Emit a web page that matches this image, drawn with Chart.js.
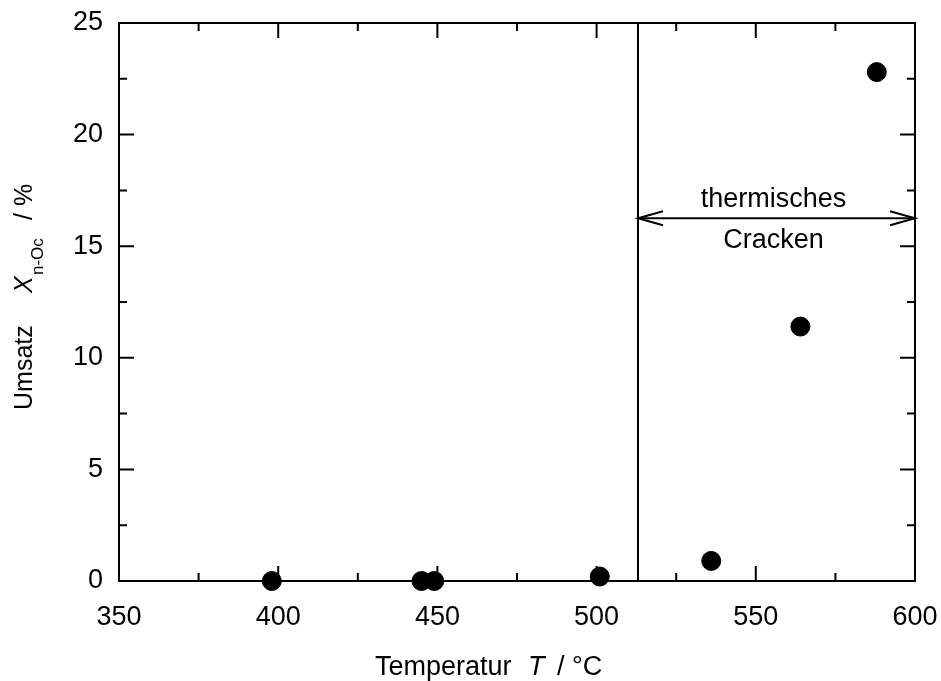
<!DOCTYPE html>
<html lang="de">
<head>
<meta charset="utf-8">
<title>Umsatz über Temperatur</title>
<script src="https://cdn.jsdelivr.net/npm/chart.js@4/dist/chart.umd.min.js"></script>
<style>
  html, body { margin: 0; padding: 0; background: #ffffff; }
  canvas { display: block; }
</style>
</head>
<body>
<canvas id="chart" width="941" height="681"></canvas>
<script>
  // ============ Daten ============
  const temperatures = [398, 445, 449, 501, 536, 564, 588];   // °C
  const conversion = [0, 0, 0, 0.2, 0.9, 11.4, 22.8];         // %
  const xMajorTicks = [350, 400, 450, 500, 550, 600];
  const xMinorTicks = [375, 425, 475, 525, 575];
  const yMajorTicks = [0, 5, 10, 15, 20, 25];
  const yMinorTicks = [2.5, 7.5, 12.5, 17.5, 22.5];
  const crackStart = 513;     // Beginn thermisches Cracken
  const crackArrowY = 16.25;
  const crackLabels = ['thermisches', 'Cracken'];

  (function () {
    'use strict';

    const FONT = '"Liberation Sans", Arial, sans-serif';
    const INK = '#000000';

    /** Rahmen und nach innen zeigende Ticks auf allen vier Seiten */
    const frameTicks = {
      id: 'frameTicks',
      beforeDatasetsDraw: function (chart) {
        const ctx = chart.ctx;
        const a = chart.chartArea;
        const xs = chart.scales.x;
        const ys = chart.scales.y;
        ctx.save();
        ctx.strokeStyle = INK;
        ctx.lineWidth = 2;
        ctx.strokeRect(a.left, a.top, a.right - a.left, a.bottom - a.top);

        ctx.beginPath();
        function xTick(v, len) {
          const px = xs.getPixelForValue(v);
          ctx.moveTo(px, a.bottom); ctx.lineTo(px, a.bottom - len);
          ctx.moveTo(px, a.top); ctx.lineTo(px, a.top + len);
        }
        function yTick(v, len) {
          const py = ys.getPixelForValue(v);
          ctx.moveTo(a.left, py); ctx.lineTo(a.left + len, py);
          ctx.moveTo(a.right, py); ctx.lineTo(a.right - len, py);
        }
        xMajorTicks.forEach(function (v) { xTick(v, 15); });
        xMinorTicks.forEach(function (v) { xTick(v, 8); });
        yMajorTicks.forEach(function (v) { yTick(v, 15); });
        yMinorTicks.forEach(function (v) { yTick(v, 8); });
        ctx.stroke();
        ctx.restore();
      },
    };

    /** Pfeilspitzen, Beschriftung und Achsentitel */
    const annotations = {
      id: 'annotations',
      afterDatasetsDraw: function (chart) {
        const ctx = chart.ctx;
        const xs = chart.scales.x;
        const ys = chart.scales.y;
        const x0 = xs.getPixelForValue(crackStart);
        const x1 = xs.getPixelForValue(xs.max);
        const y = ys.getPixelForValue(crackArrowY);

        ctx.save();
        ctx.strokeStyle = INK;
        ctx.fillStyle = INK;
        ctx.lineWidth = 2;
        ctx.beginPath();
        ctx.moveTo(x0 + 25, y - 7); ctx.lineTo(x0, y); ctx.lineTo(x0 + 25, y + 7);
        ctx.moveTo(x1 - 25, y - 7); ctx.lineTo(x1, y); ctx.lineTo(x1 - 25, y + 7);
        ctx.stroke();

        const mid = (x0 + x1) / 2 - 3;
        ctx.font = '27px ' + FONT;
        ctx.textAlign = 'center';
        ctx.textBaseline = 'alphabetic';
        ctx.fillText(crackLabels[0], mid, y - 11);
        ctx.fillText(crackLabels[1], mid, y + 30);

        // x-Achsentitel: Temperatur T / °C
        ctx.textAlign = 'left';
        ctx.font = '27px ' + FONT;
        ctx.fillText('Temperatur', 375, 675);
        ctx.font = 'italic 27px ' + FONT;
        ctx.fillText('T', 528, 675);
        ctx.font = '27px ' + FONT;
        ctx.fillText('/ °C', 557, 675);

        // y-Achsentitel: Umsatz X_n-Oc / % (gedreht)
        ctx.translate(32, 410);
        ctx.rotate(-Math.PI / 2);
        ctx.font = '25px ' + FONT;
        ctx.fillText('Umsatz', 0, 0);
        ctx.font = 'italic 25px ' + FONT;
        ctx.fillText('X', 117, 0);
        ctx.font = '17px ' + FONT;
        ctx.fillText('n-Oc', 135, 11);
        ctx.font = '25px ' + FONT;
        ctx.fillText('/ %', 190, 0);
        ctx.restore();
      },
    };

    const points = temperatures.map(function (t, i) {
      return { x: t, y: conversion[i] };
    });

    new Chart(document.querySelector('#chart'), {
      type: 'scatter',
      data: {
        datasets: [
          {
            data: points,
            backgroundColor: INK,
            borderColor: INK,
            pointRadius: 9.5,
            pointHoverRadius: 9.5,
            clip: false,
          },
          {
            type: 'line',
            data: [{ x: crackStart, y: 0 }, { x: crackStart, y: 25 }],
            borderColor: INK,
            borderWidth: 2,
            pointRadius: 0,
            fill: false,
          },
          {
            type: 'line',
            data: [{ x: crackStart, y: crackArrowY }, { x: 600, y: crackArrowY }],
            borderColor: INK,
            borderWidth: 2,
            pointRadius: 0,
            fill: false,
          },
        ],
      },
      options: {
        responsive: false,
        animation: false,
        devicePixelRatio: 1,
        layout: { padding: { top: 23, right: 26, left: 0, bottom: 0 } },
        plugins: {
          legend: { display: false },
          tooltip: { enabled: false },
        },
        scales: {
          x: {
            type: 'linear',
            min: 350,
            max: 600,
            grid: { display: false, drawTicks: false },
            border: { display: false },
            ticks: {
              stepSize: 50,
              padding: 20,
              color: INK,
              font: { family: FONT, size: 27 },
            },
            // Überhang der Beschriftungen ignorieren, Plotfläche fest halten
            afterFit: function (scale) {
              scale.height = 100;
              scale.paddingLeft = 0;
              scale.paddingRight = 0;
            },
          },
          y: {
            type: 'linear',
            min: 0,
            max: 25,
            grid: { display: false, drawTicks: false },
            border: { display: false },
            ticks: {
              stepSize: 5,
              padding: 16,
              color: INK,
              font: { family: FONT, size: 27 },
            },
            afterFit: function (scale) {
              scale.width = 119;
              scale.paddingTop = 0;
              scale.paddingBottom = 0;
            },
          },
        },
      },
      plugins: [frameTicks, annotations],
    });
  })();
</script>
</body>
</html>
